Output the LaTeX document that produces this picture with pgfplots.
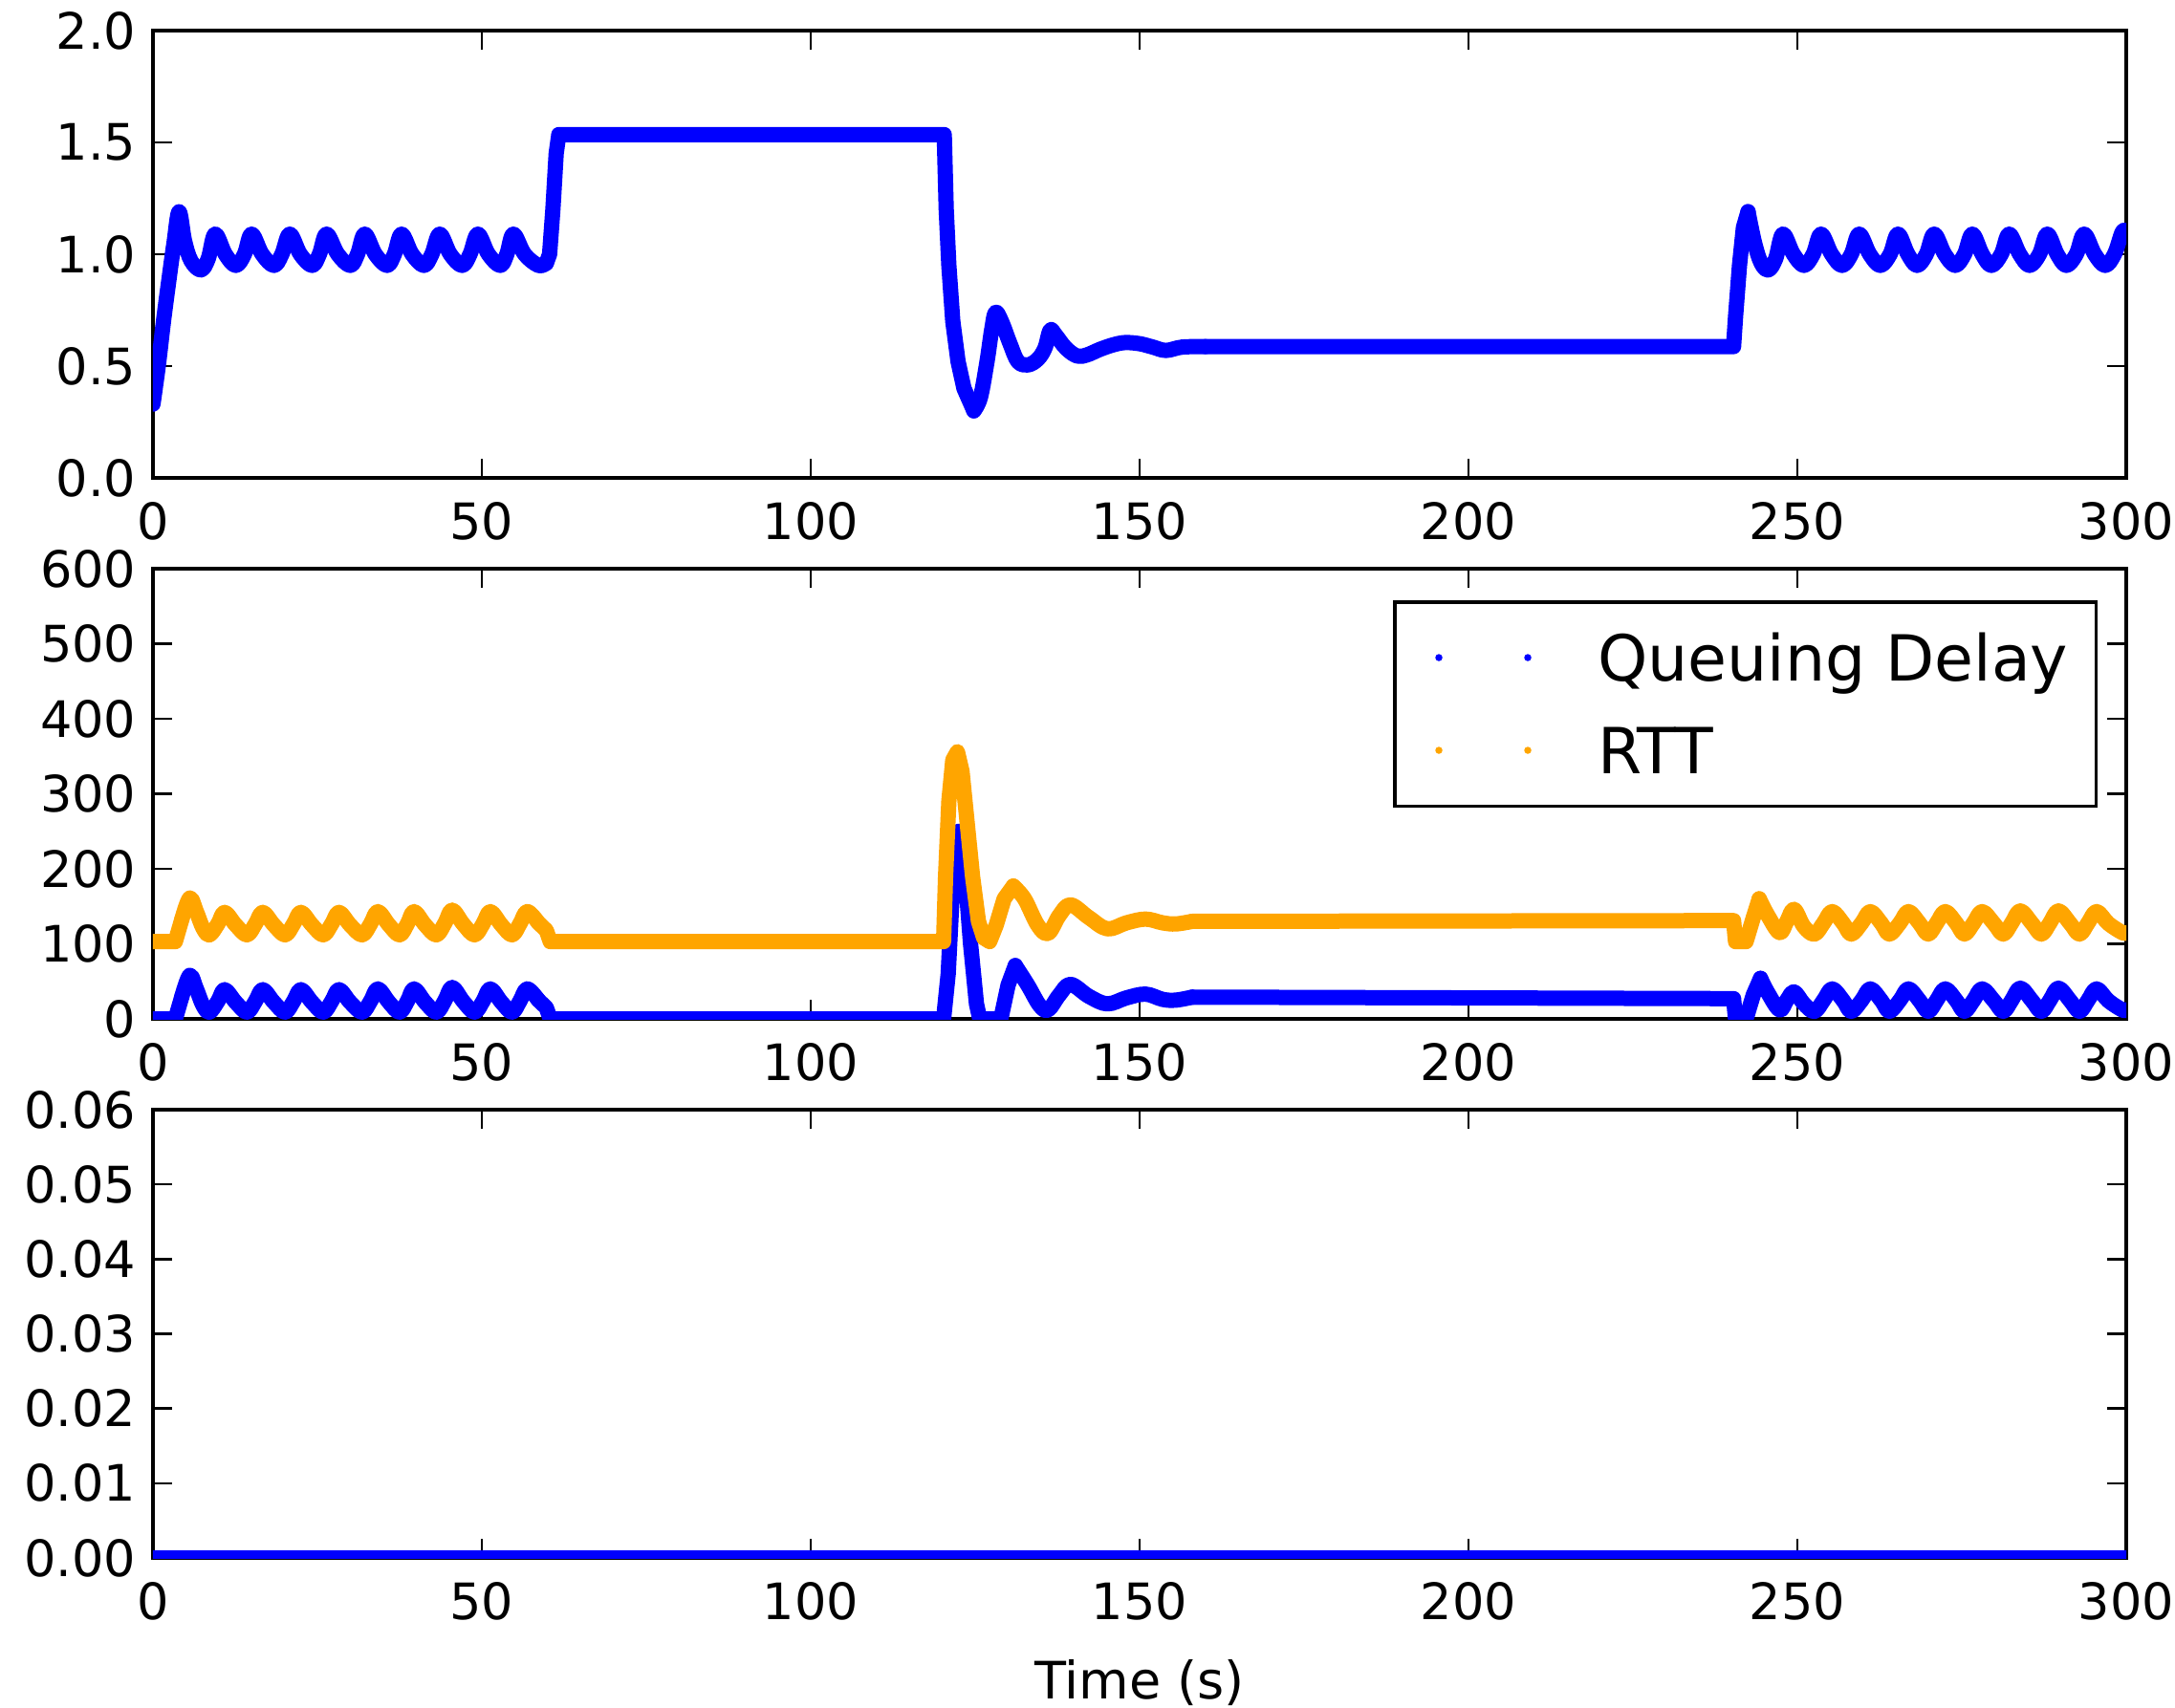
\documentclass[border=0pt]{standalone}
\usepackage{fontspec}
\setmainfont{DejaVu Sans}
\usepackage{pgfplots}
\usepackage{pgfplotstable}
\pgfplotsset{compat=1.18}
\definecolor{qblue}{RGB}{0,0,255}
\definecolor{rttorange}{RGB}{255,165,0}

% sending rate (top panel)
\pgfplotstableread{
t y
0 0.33
0.8 0.5
1.6 0.7
2.4 0.88
3.2 1.05
3.97 1.19
4.8 1.06
5.8 0.97
7.3 0.93
8.4 0.98
9.45 1.09
11.0 1.0
12.6 0.95
13.9 1.0
15.0 1.09
16.6 1.0
18.4 0.95
19.6 1.0
20.8 1.09
22.4 1.0
24.2 0.95
25.3 1.0
26.4 1.09
28.1 1.0
30.0 0.95
31.1 1.0
32.2 1.09
33.8 1.0
35.6 0.95
36.7 1.0
37.8 1.09
39.4 1.0
41.2 0.95
42.4 1.0
43.6 1.09
45.2 1.0
47.0 0.95
48.2 1.0
49.4 1.09
51.0 1.0
52.8 0.95
53.8 1.0
54.8 1.09
56.5 1.0
58.6 0.95
59.8 0.96
60.3 1.0
60.8 1.2
61.3 1.45
61.7 1.535
120.3 1.535
120.6 1.2
121.0 0.95
121.6 0.7
122.4 0.52
123.3 0.4
124.8 0.30
125.8 0.36
126.8 0.52
127.5 0.66
128.1 0.74
129.0 0.70
130.3 0.60
131.5 0.52
133.0 0.505
134.5 0.53
135.6 0.58
136.4 0.66
137.2 0.64
138.8 0.58
140.5 0.545
142.0 0.55
144.0 0.575
146.0 0.595
147.8 0.605
150.0 0.60
152.0 0.585
154.0 0.57
156.5 0.585
160.0 0.587
240.3 0.587
240.6 0.72
241.2 0.95
241.8 1.12
242.5 1.19
243.5 1.05
244.5 0.96
245.6 0.93
246.7 0.98
247.8 1.09
249.4 1.0
251.0 0.95
252.4 1.0
253.6 1.09
255.2 1.0
256.8 0.95
258.2 1.0
259.4 1.09
261.0 1.0
262.6 0.95
264.1 1.0
265.3 1.09
266.8 1.0
268.2 0.95
269.6 1.0
270.8 1.09
272.4 1.0
274.0 0.95
275.4 1.0
276.6 1.09
278.1 1.0
279.5 0.95
281.0 1.0
282.2 1.09
283.8 1.0
285.3 0.95
286.8 1.0
288.0 1.09
289.5 1.0
290.9 0.95
292.4 1.0
293.6 1.09
295.2 1.0
296.8 0.95
298.2 1.0
299.4 1.10
300.0 1.10
}\ratetab

% queuing delay (middle panel, blue)
\pgfplotstableread{
t y
0 0
3.4 0
4.4 30
5.6 58
6.6 40
7.6 18
8.6 9
9.9 24
10.9 39
12.6 22
14.3 9
15.6 24
16.7 39
18.4 22
20.1 9
21.4 24
22.5 39
24.2 22
25.9 9
27.2 24
28.3 39
30.0 22
31.8 9
33.1 24
34.2 40
35.9 22
37.5 9
38.7 24
39.7 40
41.4 22
43.1 9
44.4 25
45.5 42
47.2 23
48.9 9
50.2 24
51.3 40
53.0 22
54.6 9
55.8 24
56.9 40
58.6 25
59.8 15
60.4 0
120.2 0
120.9 60
121.7 200
122.5 250
123.1 220
123.6 180
124.3 100
125.2 20
125.7 0
128.9 0
130.0 45
131.1 71
133.0 45
134.8 18
136.1 12
137.8 32
139.5 46
142.3 30
145.1 20
148.0 28
150.9 33
153.5 26
155.5 25
158.0 29
240.3 27
240.6 0
242.2 0
243.3 32
244.4 54
245.5 35
247.3 12
248.4 25
249.5 36
251.0 20
252.6 10
254.0 25
255.3 40
257.0 24
258.2 10
259.8 25
261.1 40
262.8 24
264.0 10
265.6 25
266.9 40
268.6 24
269.9 10
271.2 25
272.5 40
274.2 24
275.4 10
276.8 25
278.1 40
279.9 24
281.3 10
282.6 25
283.9 41
285.7 24
287.1 10
288.4 25
289.7 41
291.5 24
292.9 10
294.2 25
295.5 40
297.3 24
299.4 12
300.0 12
}\qdtab

% RTT (middle panel, orange)
\pgfplotstableread{
t y
0 103
3.4 103
4.4 133
5.6 161
6.6 143
7.6 121
8.6 112
9.9 127
10.9 142
12.6 125
14.3 112
15.6 127
16.7 142
18.4 125
20.1 112
21.4 127
22.5 142
24.2 125
25.9 112
27.2 127
28.3 142
30.0 125
31.8 112
33.1 127
34.2 143
35.9 125
37.5 112
38.7 127
39.7 143
41.4 125
43.1 112
44.4 128
45.5 145
47.2 126
48.9 112
50.2 127
51.3 143
53.0 125
54.6 112
55.8 127
56.9 143
58.6 128
59.8 118
60.4 103
120.2 103
120.5 190
121.0 290
121.6 345
122.3 356
123.0 330
123.8 260
124.6 190
125.5 130
126.3 108
127.2 103
128.2 125
129.4 160
130.8 177
132.5 160
134.5 125
136.1 114
137.8 138
139.5 152
142.3 135
145.1 120
148.0 128
150.9 133
153.5 128
155.5 126.5
158.0 130
240.3 131
240.6 103
242.2 103
243.3 135
244.2 160
245.5 138
247.3 115
248.4 130
249.5 146
251.0 123
252.6 113
254.0 128
255.3 143
257.0 127
258.2 113
259.8 128
261.1 143
262.8 127
264.0 113
265.6 128
266.9 143
268.6 127
269.9 113
271.2 128
272.5 143
274.2 127
275.4 113
276.8 128
278.1 143
279.9 127
281.3 113
282.6 128
283.9 144
285.7 127
287.1 113
288.4 128
289.7 144
291.5 127
292.9 113
294.2 128
295.5 143
297.3 127
299.4 115
300.0 115
}\rtttab

\pgfplotsset{
  panel/.style={
    scale only axis, width=412.8pt,
    xmin=0, xmax=300, xtick={0,50,...,300},
    axis line style={line width=0.8pt},
    tick align=inside, major tick length=4pt,
    major tick style={black, line width=0.5pt},
    tick label style={font=\fontsize{10.5}{12}\selectfont},
    xticklabel style={yshift=-1.5pt},
    scaled y ticks=false,
    /pgf/number format/assume math mode=true,
  },
  trace/.style={line width=3.2pt, line join=round, line cap=round, mark=none},
  wave/.style={trace, smooth, tension=0.6},
}

\begin{document}
\begin{tikzpicture}
% top panel
\begin{axis}[panel, at={(0pt,226pt)}, anchor=south west, height=93.6pt,
    ymin=0, ymax=2, ytick={0,0.5,...,2},
    yticklabel style={/pgf/number format/fixed, /pgf/number format/fixed zerofill,
      /pgf/number format/precision=1}]
  \addplot[wave, color=qblue, restrict x to domain=0:59.8] table[x=t, y=y] {\ratetab};
  \addplot[trace, color=qblue, restrict x to domain=59.8:124.8] table[x=t, y=y] {\ratetab};
  \addplot[wave, color=qblue, restrict x to domain=124.8:160] table[x=t, y=y] {\ratetab};
  \addplot[trace, color=qblue, restrict x to domain=160:242.5] table[x=t, y=y] {\ratetab};
  \addplot[wave, color=qblue, restrict x to domain=242.5:300] table[x=t, y=y] {\ratetab};
\end{axis}

% middle panel
\begin{axis}[panel, at={(0pt,112.8pt)}, anchor=south west, height=94.2pt,
    ymin=0, ymax=600, ytick={0,100,...,600},
    legend cell align=left,
    legend image code/.code={
      \path (-1.8pt,0pt) (19.4pt,0pt);
      \fill[draw=none] (0pt,0pt) circle (0.75pt);
      \fill[draw=none] (18.6pt,0pt) circle (0.75pt);
    },
    legend style={at={(1,1)}, anchor=north east, xshift=-6pt, yshift=-6.6pt,
      draw=black, line width=0.7pt, fill=white,
      font=\fontsize{13.3}{16}\selectfont,
      inner xsep=5.8pt, inner ysep=6.8pt, row sep=9.7pt,
      nodes={inner sep=0pt, text height=9.7pt, text depth=0pt},
      /tikz/every odd column/.append style={column sep=12.2pt}}]
  \addplot[trace, color=qblue, restrict x to domain=0:4.4, forget plot] table[x=t, y=y] {\qdtab};
  \addplot[wave, color=qblue, restrict x to domain=4.4:58.6] table[x=t, y=y] {\qdtab};
  \addlegendentry{Queuing Delay}
  \addplot[trace, color=qblue, restrict x to domain=58.6:131.1, forget plot] table[x=t, y=y] {\qdtab};
  \addplot[wave, color=qblue, restrict x to domain=131.1:158, forget plot] table[x=t, y=y] {\qdtab};
  \addplot[trace, color=qblue, restrict x to domain=158:244.4, forget plot] table[x=t, y=y] {\qdtab};
  \addplot[wave, color=qblue, restrict x to domain=244.4:300, forget plot] table[x=t, y=y] {\qdtab};
  \addplot[trace, color=rttorange, restrict x to domain=0:4.4, forget plot] table[x=t, y=y] {\rtttab};
  \addplot[wave, color=rttorange, restrict x to domain=4.4:58.6] table[x=t, y=y] {\rtttab};
  \addlegendentry{RTT}
  \addplot[trace, color=rttorange, restrict x to domain=58.6:130.8, forget plot] table[x=t, y=y] {\rtttab};
  \addplot[wave, color=rttorange, restrict x to domain=130.8:158, forget plot] table[x=t, y=y] {\rtttab};
  \addplot[trace, color=rttorange, restrict x to domain=158:244.2, forget plot] table[x=t, y=y] {\rtttab};
  \addplot[wave, color=rttorange, restrict x to domain=244.2:300, forget plot] table[x=t, y=y] {\rtttab};
\end{axis}

% bottom panel
\begin{axis}[panel, at={(0pt,0pt)}, anchor=south west, height=93.8pt,
    ymin=0, ymax=0.06, ytick={0,0.01,...,0.06},
    yticklabel style={/pgf/number format/fixed, /pgf/number format/fixed zerofill,
      /pgf/number format/precision=2},
    xlabel={Time (s)},
    xlabel style={at={(axis description cs:0.5,0)}, anchor=base, yshift=-29.5pt,
      font=\fontsize{10.8}{13}\selectfont}]
  \addplot[trace, color=qblue] coordinates {(0,0) (300,0)};
\end{axis}

\pgfresetboundingbox
\path[use as bounding box] (-32pt,-31.2pt) rectangle (423pt,326pt);
\end{tikzpicture}
\end{document}
